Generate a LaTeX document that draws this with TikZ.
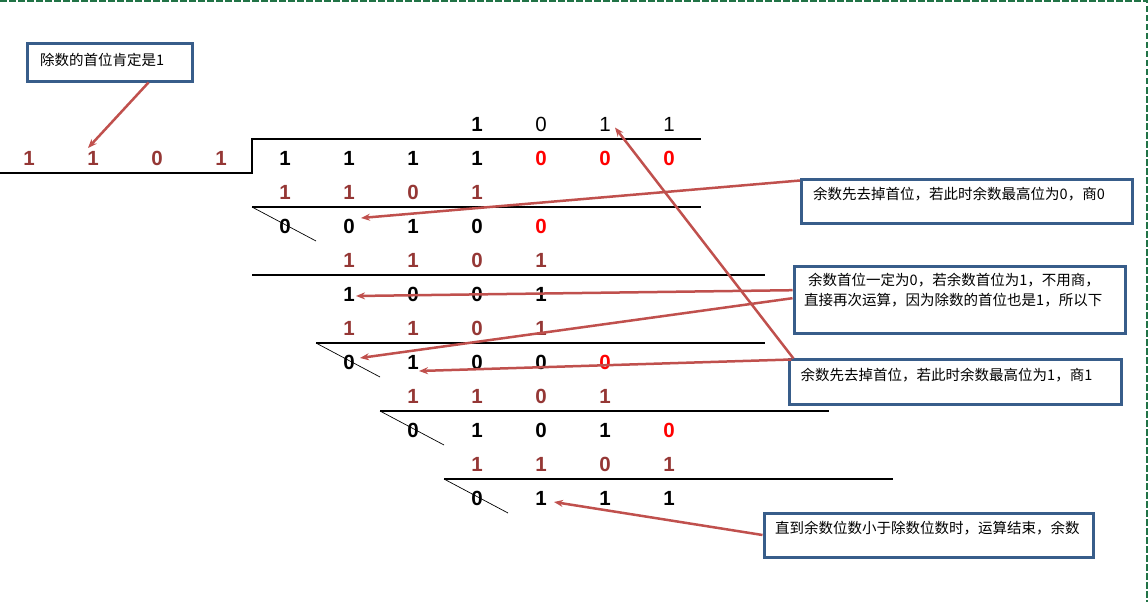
\documentclass[tikz,border=0pt]{standalone}
\usepackage{fontspec}
\newfontfamily\cjk{Noto Sans CJK SC}
\newfontfamily\arialf{Liberation Sans}
\usetikzlibrary{arrows.meta,calc}
\definecolor{brn}{HTML}{953735}
\definecolor{arr}{HTML}{C0504D}
\definecolor{bxc}{HTML}{385D8A}
\definecolor{grn}{HTML}{217346}
\newcommand\drow[5]{%
  \foreach \d [count=\i from 0] in {#5} {%
    \pgfmathtruncatemacro\cc{#3+\i}%
    \node[#4] (r#1c\cc) at ({285+64*\cc},#2) {\d};}}
\begin{document}
\begin{tikzpicture}[x=1pt,y=-1pt,
 dg/.style={inner sep=0pt, font=\arialf\bfseries\fontsize{20.5}{21}\selectfont},
 bk/.style={dg},
 br/.style={dg,text=brn},
 rd/.style={dg,text=red},
 qn/.style={inner sep=0pt,font=\arialf\fontsize{20.5}{21}\selectfont},
 rulel/.style={line width=1.1pt},
 slashl/.style={line width=0.7pt},
 box/.style={draw=bxc,line width=3pt,inner sep=0pt},
 note/.style={font=\cjk\fontsize{14.5}{20}\selectfont,inner sep=0pt,anchor=west,align=left},
 callout/.style={draw=arr,line width=2.5pt,-{Stealth[length=9pt,width=7pt]}}
]
\useasboundingbox (0,0) rectangle (1148,602);
\fill[white] (0,0) rectangle (1148,602);
\draw[grn,line width=1.3pt,dash pattern=on 6.5pt off 2.5pt] (0,1) -- (1147,1) -- (1147,602);

% quotient
\node[bk] (q4) at (477,124.5) {1};
\node[qn] (q5) at (541,124.5) {0};
\node[qn] (q6) at (605,124.5) {1};
\node[qn] (q7) at (669,124.5) {1};

% divisor
\foreach \d [count=\i from 0] in {1,1,0,1} {\node[br] (d\i) at ({29+64*\i},158) {\d};}

% rows
\drow{1}{158}{0}{bk}{1,1,1,1}
\drow{1}{158}{4}{rd}{0,0,0}
\drow{2}{192}{0}{br}{1,1,0,1}
\drow{3}{226}{0}{bk}{0,0,1,0}
\drow{3}{226}{4}{rd}{0}
\drow{4}{260}{1}{br}{1,1,0,1}
\drow{5}{294}{1}{bk}{1,0,0,1}
\drow{6}{328}{1}{br}{1,1,0,1}
\drow{7}{362}{1}{bk}{0,1,0,0}
\drow{7}{362}{5}{rd}{0}
\drow{8}{396}{2}{br}{1,1,0,1}
\drow{9}{430}{2}{bk}{0,1,0,1}
\drow{9}{430}{6}{rd}{0}
\drow{10}{464}{3}{br}{1,1,0,1}
\drow{11}{498}{3}{bk}{0,1,1,1}

% rules
\draw[rulel] (0,173) -- (252,173) -- (252,139) -- (701,139);
\draw[rulel] (252,207) -- (701,207);
\draw[rulel] (252,275) -- (765,275);
\draw[rulel] (316,343) -- (765,343);
\draw[rulel] (380,411) -- (829,411);
\draw[rulel] (444,479) -- (893,479);
\draw[slashl] (252,207) -- (316,241);
\draw[slashl] (316,343) -- (380,377);
\draw[slashl] (380,411) -- (444,445);
\draw[slashl] (444,479) -- (508,513);

% boxes
\node[box,minimum width=165pt,minimum height=37pt] (b1) at (109.5,62.5) {};
\node[note] (t1) at (40,60) {除数的首位肯定是1};
\node[box,minimum width=331pt,minimum height=44pt] (b2) at (967,201) {};
\node[note] (t2) at (813,194) {余数先去掉首位，若此时余数最高位为0，商0};
\node[box,minimum width=331pt,minimum height=66.6pt] (b3) at (959.5,300) {};
\node[note,anchor=north west] (t3) at (804,273) {\hspace{4pt}余数首位一定为0，若余数首位为1，不用商，\\直接再次运算，因为除数的首位也是1，所以下};
\node[box,minimum width=331.7pt,minimum height=45pt] (b4) at (955.8,381.5) {};
\node[note] (t4) at (800.5,375) {余数先去掉首位，若此时余数最高位为1，商1};
\node[box,minimum width=329pt,minimum height=44pt] (b5) at (928.5,535) {};
\node[note] (t5) at (775,528) {直到余数位数小于除数位数时，运算结束，余数};

% callouts
\draw[callout] ($(b1.south west)+(123,0)$) -- ($(d1)+(-5,-10)$);
\draw[callout] ($(b2.north west)+(0,3)$) -- ($(r3c1)+(12,-8)$);
\draw[callout] ($(b3.north west)+(0,25)$) -- ($(r5c1)+(7,2)$);
\draw[callout] ($(b3.north west)+(0,33)$) -- ($(r7c1)+(11,-4)$);
\draw[callout] ($(b4.north west)+(3,2)$) -- ($(r7c2)+(6,9)$);
\draw[callout] ($(b4.north west)+(5,1)$) -- ($(q6)+(10,3)$);
\draw[callout] (b5.west) -- ($(r11c4)+(13,4)$);
\end{tikzpicture}
\end{document}
